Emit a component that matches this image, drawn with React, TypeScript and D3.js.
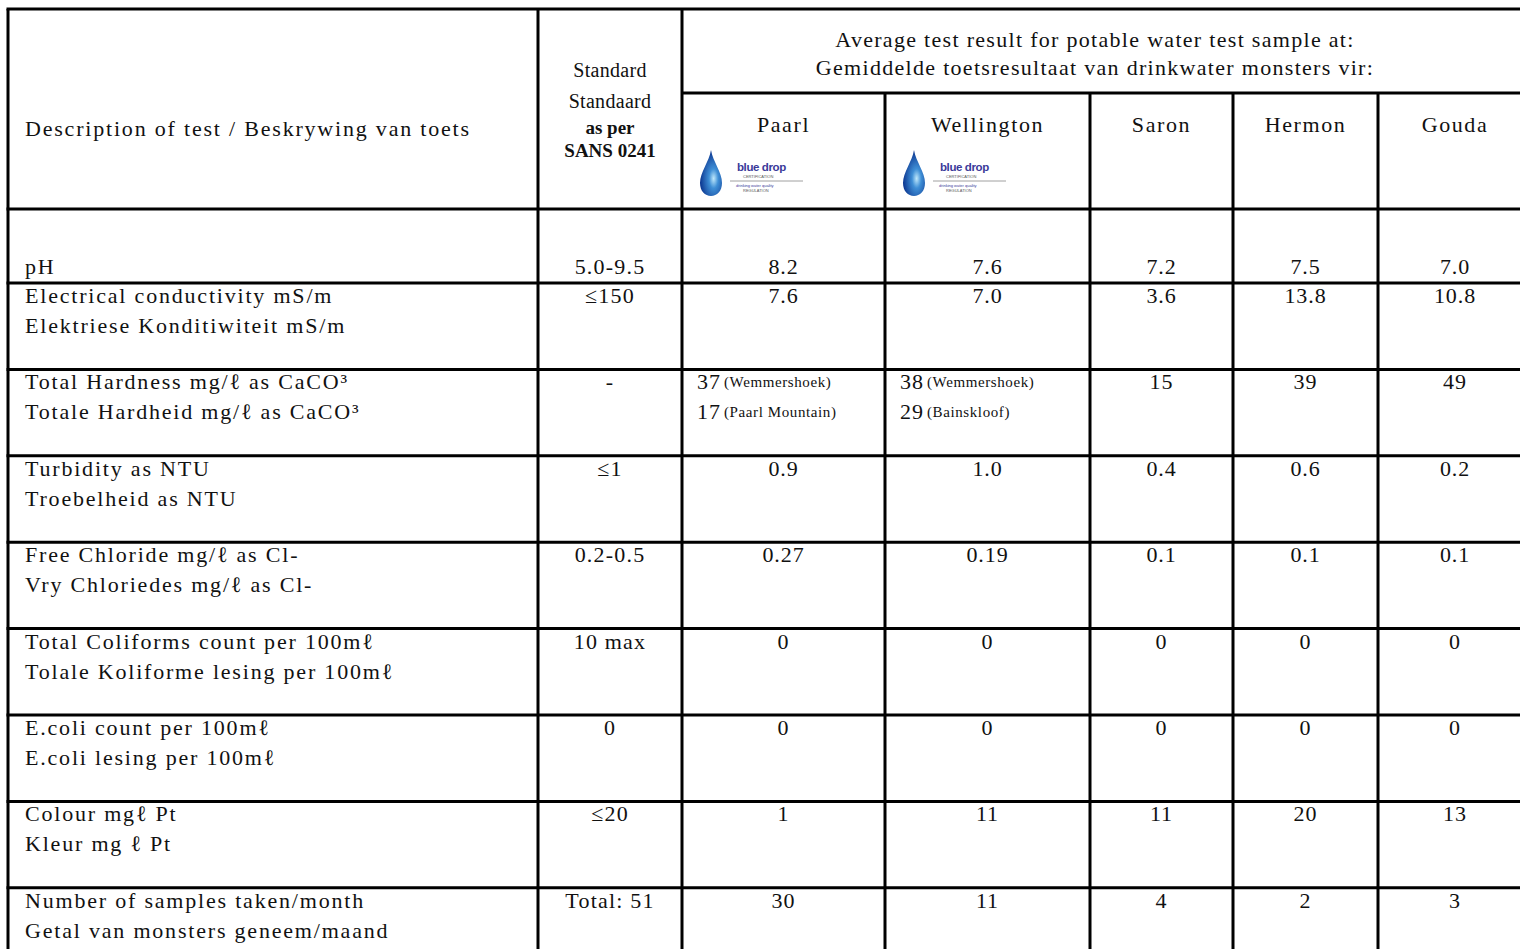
import React from "react";
import * as d3 from "d3";

// ---------- data ----------
const locations = ["Paarl", "Wellington", "Saron", "Hermon", "Gouda"];
const blueDrop = [true, true, false, false, false];

const testsEn = [
  "pH",
  "Electrical conductivity mS/m",
  "Total Hardness mg/ℓ as CaCO³",
  "Turbidity as NTU",
  "Free Chloride mg/ℓ as Cl-",
  "Total Coliforms count per 100mℓ",
  "E.coli count per 100mℓ",
  "Colour mgℓ Pt",
  "Number of samples taken/month",
];
const testsAf = [
  "",
  "Elektriese Konditiwiteit mS/m",
  "Totale Hardheid mg/ℓ as CaCO³",
  "Troebelheid as NTU",
  "Vry Chloriedes mg/ℓ as Cl-",
  "Tolale Koliforme lesing per 100mℓ",
  "E.coli lesing per 100mℓ",
  "Kleur mg ℓ Pt",
  "Getal van monsters geneem/maand",
];
const standards = ["5.0-9.5", "≤150", "-", "≤1", "0.2-0.5", "10 max", "0", "≤20", "Total: 51"];

const paarl = ["8.2", "7.6", "37", "0.9", "0.27", "0", "0", "1", "30"];
const wellington = ["7.6", "7.0", "38", "1.0", "0.19", "0", "0", "11", "11"];
const saron = ["7.2", "3.6", "15", "0.4", "0.1", "0", "0", "11", "4"];
const hermon = ["7.5", "13.8", "39", "0.6", "0.1", "0", "0", "20", "2"];
const gouda = ["7.0", "10.8", "49", "0.2", "0.1", "0", "0", "13", "3"];

// hardness split by source (Paarl / Wellington)
const hardnessSources = [
  [
    { v: "37", src: "(Wemmershoek)" },
    { v: "17", src: "(Paarl Mountain)" },
  ],
  [
    { v: "38", src: "(Wemmershoek)" },
    { v: "29", src: "(Bainskloof)" },
  ],
];

const headerStandard = ["Standard", "Standaard"];
const headerStandardBold = ["as per", "SANS 0241"];
const headerDesc = "Description of test / Beskrywing van toets";
const headerAvg = [
  "Average test result for potable water test sample at:",
  "Gemiddelde toetsresultaat van drinkwater monsters vir:",
];

// ---------- layout ----------
const W = 1520;
const H = 949;
const colEdges = [8, 538, 682, 885, 1090, 1233, 1378, 1532];
const tableTop = 9;
const subLine = 93;
const headerBottom = 209;
const firstRowBottom = 283;
const rowPitch = 86.4;

const FONT = "'Liberation Serif', 'Times New Roman', serif";
const FS = 22;
const LS = 1.8;

const valueCols = [paarl, wellington, saron, hermon, gouda];

function BlueDropLogo({ x, y }: { x: number; y: number }) {
  const id = `bd-${x}`;
  const sans = "'Liberation Sans', Arial, sans-serif";
  return (
    <g transform={`translate(${x},${y})`}>
      <defs>
        <radialGradient id={id} cx="0.62" cy="0.62" r="0.6">
          <stop offset="0" stopColor="#bfe8fb" />
          <stop offset="0.35" stopColor="#3f8fd6" />
          <stop offset="1" stopColor="#0e3a93" />
        </radialGradient>
      </defs>
      <path
        d="M11,0 C13,12 22,22 22,33 C22,41 17,46 11,46 C5,46 0,41 0,33 C0,22 9,12 11,0 Z"
        fill={`url(#${id})`}
      />
      <text x={37} y={21} fontFamily={sans} fontSize={11.5} fill="#3a3a9a" letterSpacing={-0.4} fontWeight="bold">
        blue drop
      </text>
      <text x={43} y={28} fontFamily={sans} fontSize={4} fill="#555">
        CERTIFICATION
      </text>
      <line x1={30} x2={103} y1={31} y2={31} stroke="#888" strokeWidth={0.8} />
      <text x={36} y={37} fontFamily={sans} fontSize={4} fill="#3a3a9a">
        drinking water quality
      </text>
      <text x={43} y={42} fontFamily={sans} fontSize={4} fill="#555">
        REGULATION
      </text>
    </g>
  );
}

export default function App() {
  const nRows = testsEn.length;
  const rowTop = d3
    .scaleLinear()
    .domain([1, nRows])
    .range([firstRowBottom, firstRowBottom + rowPitch * (nRows - 1)]);
  const rowTops = d3.range(nRows).map((i) => (i === 0 ? headerBottom : rowTop(i)));
  const rowBottoms = d3.range(nRows).map((i) => rowTop(i + 1));

  const colX = d3.scaleOrdinal<number, number>().domain(d3.range(colEdges.length)).range(colEdges);
  const colCenter = (i: number) => (colX(i) + colX(i + 1)) / 2;

  const textBase = { fontFamily: FONT, fontSize: FS, letterSpacing: LS, fill: "#111" };

  const hLines: number[] = [tableTop, headerBottom, ...rowBottoms];

  return (
    <svg width={W} height={H} style={{ position: "absolute", left: 0, top: 0, background: "#fff" }}>
      <rect x={0} y={0} width={W} height={H} fill="#fff" />
      {/* header texts */}
      <text {...textBase} x={25} y={131} dominantBaseline="middle">
        {headerDesc}
      </text>
      {headerStandard.map((t, i) => (
        <text key={t} {...textBase} fontSize={20} letterSpacing={0.3} x={colCenter(1)} y={72 + i * 31} textAnchor="middle" dominantBaseline="middle">
          {t}
        </text>
      ))}
      {headerStandardBold.map((t, i) => (
        <text
          key={t}
          {...textBase}
          letterSpacing={0}
          fontSize={19}
          fontWeight="bold"
          x={colCenter(1)}
          y={130 + i * 23}
          textAnchor="middle"
          dominantBaseline="middle"
        >
          {t}
        </text>
      ))}
      {headerAvg.map((t, i) => (
        <text
          key={t}
          {...textBase}
          letterSpacing={1.3}
          x={(colX(2) + colX(7)) / 2 - 12}
          y={42 + i * 28}
          textAnchor="middle"
          dominantBaseline="middle"
        >
          {t}
        </text>
      ))}
      {locations.map((loc, j) => (
        <g key={loc}>
          <text {...textBase} letterSpacing={1.6} x={colCenter(j + 2)} y={127} textAnchor="middle" dominantBaseline="middle">
            {loc}
          </text>
          {blueDrop[j] && <BlueDropLogo x={colX(j + 2) + 18} y={150} />}
        </g>
      ))}

      {/* body rows */}
      {testsEn.map((t, i) => {
        const top = rowTops[i];
        const y1 = i === 0 ? rowBottoms[0] - 14 : top + 15;
        return (
          <g key={t}>
            <text {...textBase} x={25} y={y1} dominantBaseline="middle">
              {t}
            </text>
            {testsAf[i] && (
              <text {...textBase} x={25} y={y1 + 30} dominantBaseline="middle">
                {testsAf[i]}
              </text>
            )}
            <text {...textBase} letterSpacing={1.2} x={colCenter(1)} y={y1} textAnchor="middle" dominantBaseline="middle">
              {standards[i]}
            </text>
            {valueCols.map((col, j) => {
              if (i === 2 && j < 2) {
                return (
                  <g key={j}>
                    {hardnessSources[j].map((s, k) => (
                      <text key={k} {...textBase} letterSpacing={1} x={colX(j + 2) + 15} y={y1 + k * 30} dominantBaseline="middle">
                        {s.v}
                        <tspan fontSize={15} letterSpacing={0.6} dx={3}>
                          {s.src}
                        </tspan>
                      </text>
                    ))}
                  </g>
                );
              }
              return (
                <text key={j} {...textBase} letterSpacing={0.9} x={colCenter(j + 2)} y={y1} textAnchor="middle" dominantBaseline="middle">
                  {col[i]}
                </text>
              );
            })}
          </g>
        );
      })}

      {/* grid lines */}
      <g stroke="#000" strokeWidth={3}>
        {hLines.map((y, i) => (
          <line key={`h${i}`} x1={colX(0) - 1.5} x2={colX(7)} y1={y} y2={y} />
        ))}
        <line x1={colX(2)} x2={colX(7)} y1={subLine} y2={subLine} />
        {colEdges.map((x, i) => (
          <line key={`v${i}`} x1={x} x2={x} y1={i >= 3 && i <= 6 ? subLine : tableTop} y2={H + 20} />
        ))}
      </g>
    </svg>
  );
}
